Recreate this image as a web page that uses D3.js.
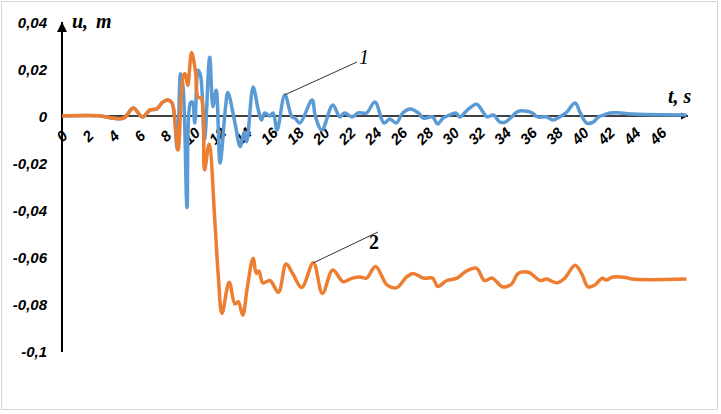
<!DOCTYPE html>
<html>
<head>
<meta charset="utf-8">
<script src="https://cdn.jsdelivr.net/npm/d3@7"></script>
<style>
  body { margin:0; background:#fff; }
  .tick-label { font-family:"Liberation Sans", Arial, sans-serif; font-weight:bold; font-style:italic; font-size:15px; fill:#000; }
  .note { font-family:"Liberation Serif", "Times New Roman", serif; font-size:20px; fill:#000; }
</style>
</head>
<body>
<div id="chart"></div>
<script>
// series 1 (blue) and series 2 (orange)
var t1 = [0, 3, 4, 4.8, 5.5, 6.2, 6.8, 7.3, 7.8, 8.2, 8.5, 8.9, 9.15, 9.35, 9.65, 9.9, 10.05, 10.25, 10.5, 10.7, 11.0, 11.4, 11.65, 11.9, 12.2, 12.6, 12.8, 13.35, 13.75, 14.05, 14.25, 14.75, 15.15, 15.4, 15.65, 16.05, 16.3, 16.6, 17.2, 17.75, 18.0, 18.35, 19.3, 19.55, 20.05, 20.9, 21.45, 21.8, 22.4, 22.85, 23.5, 24.15, 24.85, 25.3, 25.8, 26.3, 26.9, 27.5, 27.9, 28.6, 29.0, 29.4, 29.9, 30.4, 30.7, 31.3, 32.0, 32.5, 32.8, 33.3, 33.8, 34.2, 34.7, 35.2, 35.9, 36.3, 36.7, 37.4, 37.9, 38.4, 38.9, 39.6, 40.0, 40.5, 41.0, 41.4, 41.8, 42.3, 43.1, 44.1, 48.2];
var u1 = [0, 0, -0.001, -0.0008, 0.0034, -0.0004, 0.0026, 0.003, 0.006, 0.0068, 0.0055, -0.014, 0.018, 0.012, -0.039, 0.0055, 0.006, -0.003, 0.0195, 0.017, -0.010, 0.025, 0.004, 0.011, -0.020, 0.0026, 0.010, -0.003, -0.013, -0.007, -0.011, 0.0123, 0.0026, -0.0017, 0.0013, 0, 0.0013, -0.006, 0.009, -0.0004, -0.001, -0.003, 0.0068, 0, -0.006, 0.0047, -0.0004, 0.0013, -0.0004, 0.0013, 0.0013, 0.006, -0.003, -0.0013, -0.003, 0.0013, 0.003, 0.0013, -0.0009, -0.0004, -0.0034, -0.0009, 0.0004, 0.0013, -0.0004, 0.0026, 0.005, 0.0017, -0.0004, 0.0004, -0.0026, -0.0026, -0.0004, 0.002, 0.002, 0.0013, -0.0004, -0.0004, -0.0017, -0.0004, 0.0013, 0.0055, 0.0013, -0.003, -0.0026, -0.0004, 0.0004, 0.0013, 0.0013, 0.0008, 0.0004];

var t2 = [0, 3, 4, 4.8, 5.5, 6.2, 6.8, 7.3, 7.8, 8.2, 8.5, 8.95, 9.35, 9.5, 9.7, 10.0, 10.3, 10.5, 10.75, 11.0, 11.35, 11.8, 12.05, 12.35, 12.9, 13.35, 13.6, 13.95, 14.3, 14.75, 15.0, 15.2, 15.5, 16.05, 16.7, 17.3, 17.8, 18.5, 19.4, 20.1, 20.9, 21.7, 22.4, 23.0, 23.5, 24.2, 25.1, 25.85, 26.6, 27.1, 27.9, 28.6, 29.0, 29.7, 30.5, 31.2, 32.0, 32.6, 33.2, 34.0, 34.7, 35.2, 36.0, 36.9, 37.4, 38.2, 38.8, 39.6, 40.1, 40.6, 41.1, 41.7, 42.0, 42.5, 43.6, 44.0, 48.2];
var u2 = [0, 0, -0.001, -0.0008, 0.0034, -0.0004, 0.0026, 0.003, 0.006, 0.0068, 0.0055, -0.0145, 0.017, 0.018, 0.013, 0.027, 0.019, 0.008, 0.0075, -0.023, -0.012, -0.045, -0.067, -0.084, -0.0707, -0.080, -0.079, -0.0847, -0.073, -0.0605, -0.067, -0.066, -0.071, -0.070, -0.075, -0.063, -0.067, -0.073, -0.0625, -0.0755, -0.0655, -0.0705, -0.069, -0.0685, -0.069, -0.064, -0.072, -0.073, -0.0685, -0.067, -0.069, -0.069, -0.0725, -0.070, -0.069, -0.066, -0.0648, -0.070, -0.069, -0.0727, -0.0715, -0.067, -0.0665, -0.070, -0.0694, -0.071, -0.069, -0.0635, -0.067, -0.0727, -0.072, -0.069, -0.0698, -0.0685, -0.0688, -0.0694, -0.0694];

var xTicks = d3.range(0, 47, 2);
var yTicks = [0.04, 0.02, 0, -0.02, -0.04, -0.06, -0.08, -0.1];

var width = 721, height = 414;

var svg = d3.select("#chart")
            .append("svg")
            .attr("width", width)
            .attr("height", height);

// outer frame
svg.append("rect")
   .attr("x", 1.5).attr("y", 1.5)
   .attr("width", 716).attr("height", 408)
   .attr("fill", "#fff")
   .attr("stroke", "#d6d6d6");

var x = d3.scaleLinear().domain([0, 46]).range([62, 658]);
var y = d3.scaleLinear().domain([-0.1, 0.04]).range([351, 22]);

var fmt = function (d) { return String(d).replace(".", ","); };

// y tick labels
var yAxis = svg.append("g")
   .attr("transform", "translate(62,0)")
   .call(d3.axisLeft(y).tickValues(yTicks).tickSize(0).tickPadding(15).tickFormat(fmt));
yAxis.select(".domain").remove();
yAxis.selectAll("text").attr("class", "tick-label").attr("dy", "0.35em");

// x tick labels, rotated
svg.selectAll(".xlab")
   .data(xTicks)
   .enter().append("text")
   .attr("class", "tick-label")
   .attr("text-anchor", "middle")
   .attr("transform", function (d) { return "translate(" + x(d) + ",136) rotate(-45)"; })
   .attr("dy", "0.35em")
   .text(fmt);

// arrow heads
var defs = svg.append("defs");
defs.append("marker")
    .attr("id", "arrow")
    .attr("viewBox", "0 0 10 10")
    .attr("refX", 10).attr("refY", 5)
    .attr("markerWidth", 5).attr("markerHeight", 5)
    .attr("markerUnits", "strokeWidth")
    .attr("orient", "auto")
    .append("path").attr("d", "M0,0 L10,5 L0,10 Z").attr("fill", "#000");

svg.append("line")
   .attr("x1", x(0)).attr("y1", y(-0.1) + 1)
   .attr("x2", x(0)).attr("y2", y(0.04))
   .attr("stroke", "#000").attr("stroke-width", 2)
   .attr("marker-end", "url(#arrow)");

svg.append("line")
   .attr("x1", x(0)).attr("y1", y(0))
   .attr("x2", 688).attr("y2", y(0))
   .attr("stroke", "#000").attr("stroke-width", 1.5)
   .attr("marker-end", "url(#arrow)");

var line = d3.line()
    .x(function (d) { return x(d[0]); })
    .y(function (d) { return y(d[1]); })
    .curve(d3.curveCatmullRom.alpha(0.5));

svg.append("path")
   .datum(d3.zip(t1, u1))
   .attr("d", line)
   .attr("fill", "none")
   .attr("stroke", "#5b9bd5")
   .attr("stroke-width", 3.5)
   .attr("stroke-linejoin", "round");

svg.append("path")
   .datum(d3.zip(t2, u2))
   .attr("d", line)
   .attr("fill", "none")
   .attr("stroke", "#ed7d31")
   .attr("stroke-width", 3.5)
   .attr("stroke-linejoin", "round");

// axis titles
svg.append("text").attr("class", "note")
   .attr("x", 72).attr("y", 28)
   .style("font-style", "italic").style("font-weight", "bold")
   .style("word-spacing", "3px")
   .text("u, m");
svg.append("text").attr("class", "note")
   .attr("x", 668).attr("y", 103)
   .style("font-style", "italic").style("font-weight", "bold")
   .text("t, s");

// curve labels with leader lines
svg.append("line")
   .attr("x1", x(17.2)).attr("y1", y(0.009))
   .attr("x2", 357).attr("y2", 62)
   .attr("stroke", "#333").attr("stroke-width", 1);
svg.append("text").attr("class", "note")
   .attr("x", 359).attr("y", 64)
   .style("font-style", "italic")
   .text("1");

svg.append("line")
   .attr("x1", x(19.4)).attr("y1", y(-0.0625))
   .attr("x2", 378).attr("y2", 232)
   .attr("stroke", "#333").attr("stroke-width", 1);
svg.append("text").attr("class", "note")
   .attr("x", 369).attr("y", 249)
   .style("font-weight", "bold")
   .text("2");
</script>
</body>
</html>
